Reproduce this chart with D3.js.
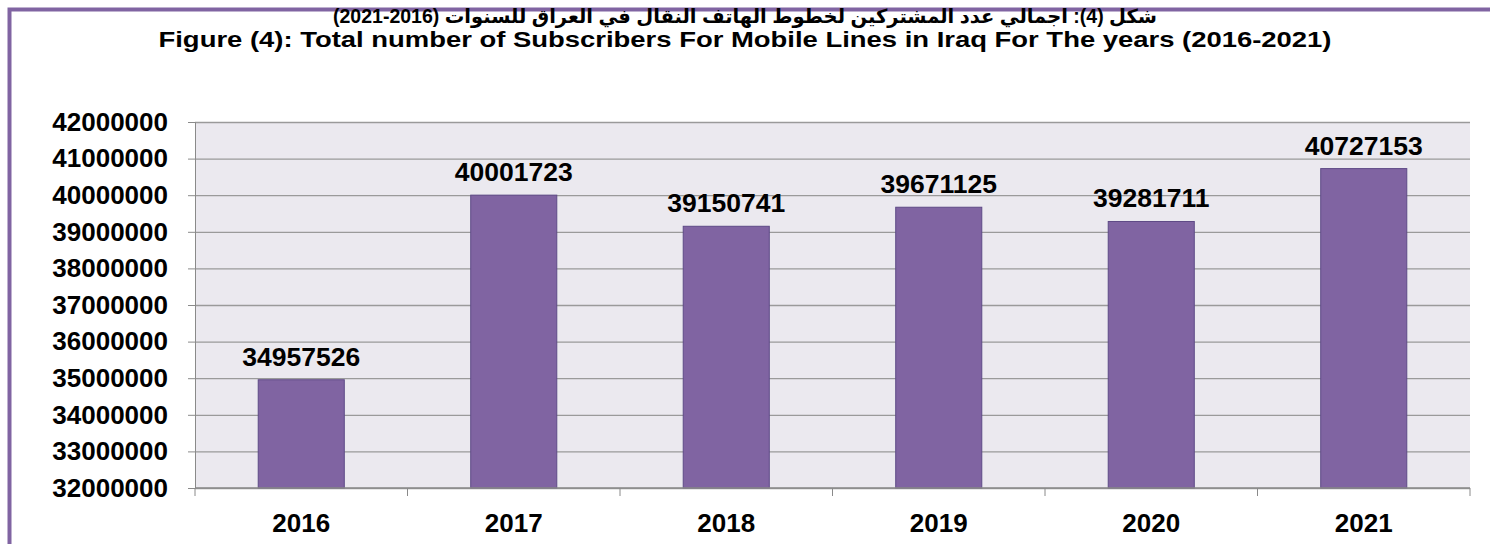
<!DOCTYPE html>
<html>
<head>
<meta charset="utf-8">
<script src="https://cdn.jsdelivr.net/npm/d3@7"></script>
<style>
  body { margin: 0; background: #fff; }
  svg { display: block; font-family: "Liberation Sans", Arial, "DejaVu Sans", sans-serif; }
</style>
</head>
<body>
<svg id="chart" width="1490" height="544"></svg>
<script>
const years = ['2016', '2017', '2018', '2019', '2020', '2021'];
const subscribers = [34957526, 40001723, 39150741, 39671125, 39281711, 40727153];
const yTicks = [32000000, 33000000, 34000000, 35000000, 36000000, 37000000, 38000000, 39000000, 40000000, 41000000, 42000000];
const titleAr = 'شكل (4): اجمالي عدد المشتركين لخطوط الهاتف النقال في العراق للسنوات (2016-2021)';
const titleEn = 'Figure (4): Total number of Subscribers For Mobile Lines in Iraq For The years (2016-2021)';

const svg = d3.select('#chart');
const margin = { top: 122, left: 195, right: 20, bottom: 56 };
const width = 1490 - margin.left - margin.right;
const height = 544 - margin.top - margin.bottom;

// outer frame (only top and left show)
svg.append('path')
  .attr('d', 'M9.5,560 L9.5,9.5 L1500,9.5')
  .attr('fill', 'none')
  .attr('stroke', '#8064A2')
  .attr('stroke-width', 4);

svg.append('text')
  .attr('x', 745).attr('y', 23)
  .attr('text-anchor', 'middle')
  .attr('direction', 'rtl')
  .style('font-size', '19.5px').style('font-weight', 'bold')
  .text(titleAr);

// the english line is stretched wide in the original
svg.append('text')
  .attr('x', 745).attr('y', 47)
  .attr('text-anchor', 'middle')
  .attr('textLength', 1173)
  .attr('lengthAdjust', 'spacingAndGlyphs')
  .style('font-size', '22px').style('font-weight', 'bold')
  .text(titleEn);

const g = svg.append('g').attr('transform', 'translate(' + margin.left + ',' + margin.top + ')');

const x = d3.scaleBand().domain(years).range([0, width]).paddingInner(0.595).paddingOuter(0.2975);
const xBound = d3.scaleLinear().domain([0, years.length]).range([0, width]);
const y = d3.scaleLinear().domain([32000000, 42000000]).range([height, 0]);

g.append('rect')
  .attr('width', width).attr('height', height)
  .attr('fill', '#EBE9EF');

// grid lines
g.append('g')
  .call(d3.axisLeft(y).tickValues(yTicks).tickSize(-width).tickFormat(''))
  .call(s => s.select('.domain').remove())
  .selectAll('line').attr('stroke', '#9a9a9a').attr('stroke-width', 1.3);

// Y axis
const yAxis = g.append('g')
  .call(d3.axisLeft(y).tickValues(yTicks).tickSize(7).tickPadding(20).tickFormat(d3.format('d')));
yAxis.select('.domain').attr('stroke', '#8a8a8a');
yAxis.selectAll('line').attr('stroke', '#8a8a8a');
yAxis.selectAll('text')
  .attr('fill', '#000')
  .style('font-size', '26px').style('font-weight', 'bold')
  .style('font-family', '"Liberation Sans", Arial, sans-serif');

// bars
g.selectAll('.bar')
  .data(subscribers)
  .enter().append('rect')
  .attr('class', 'bar')
  .attr('x', (d, i) => x(years[i]))
  .attr('y', d => y(d))
  .attr('width', x.bandwidth())
  .attr('height', d => height - y(d))
  .attr('fill', '#8064A2')
  .attr('stroke', '#5E4A86')
  .attr('stroke-width', 1);

// value labels
g.selectAll('.val')
  .data(subscribers)
  .enter().append('text')
  .attr('class', 'val')
  .attr('x', (d, i) => x(years[i]) + x.bandwidth() / 2)
  .attr('y', d => y(d) - 14)
  .attr('text-anchor', 'middle')
  .style('font-size', '26.5px').style('font-weight', 'bold')
  .text(d => d);

// X axis
const xAxis = g.append('g').attr('transform', 'translate(0,' + height + ')');
xAxis.append('line').attr('x1', 0).attr('x2', width).attr('stroke', '#8a8a8a').attr('stroke-width', 1.3);
xAxis.selectAll('.tick')
  .data(d3.range(years.length + 1))
  .enter().append('line')
  .attr('x1', d => xBound(d)).attr('x2', d => xBound(d))
  .attr('y1', 0).attr('y2', 8)
  .attr('stroke', '#8a8a8a');
xAxis.selectAll('.lbl')
  .data(years)
  .enter().append('text')
  .attr('x', d => x(d) + x.bandwidth() / 2)
  .attr('y', 44)
  .attr('text-anchor', 'middle')
  .style('font-size', '26px').style('font-weight', 'bold')
  .text(d => d);
</script>
</body>
</html>
